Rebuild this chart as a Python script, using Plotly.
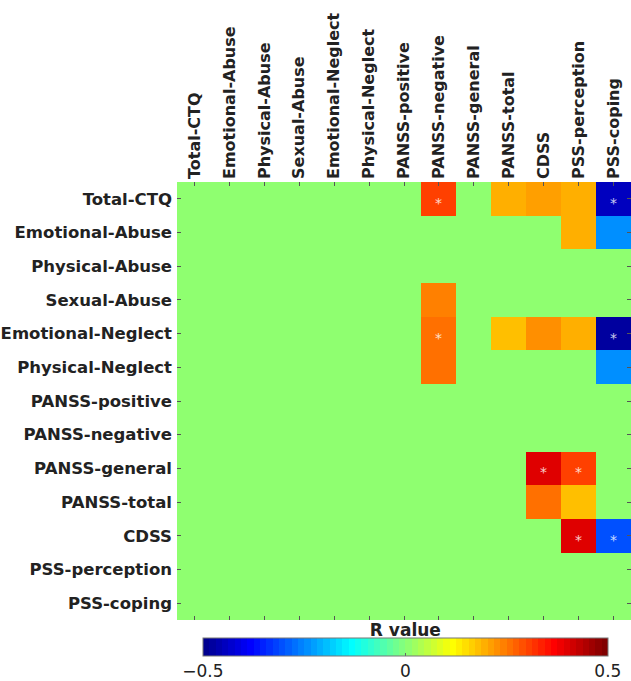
import plotly.graph_objects as go

# Variable names (rows and columns share the same order)
variables = [
    "Total-CTQ", "Emotional-Abuse", "Physical-Abuse", "Sexual-Abuse",
    "Emotional-Neglect", "Physical-Neglect", "PANSS-positive",
    "PANSS-negative", "PANSS-general", "PANSS-total", "CDSS",
    "PSS-perception", "PSS-coping",
]

# Correlation R values per row (non-significant / untested cells are 0)
r_total_ctq         = [0, 0, 0, 0, 0, 0, 0, 0.31, 0, 0.20, 0.21, 0.20, -0.44]
r_emotional_abuse   = [0, 0, 0, 0, 0, 0, 0, 0,    0, 0,    0,    0.20, -0.25]
r_physical_abuse    = [0, 0, 0, 0, 0, 0, 0, 0,    0, 0,    0,    0,     0]
r_sexual_abuse      = [0, 0, 0, 0, 0, 0, 0, 0.24, 0, 0,    0,    0,     0]
r_emotional_neglect = [0, 0, 0, 0, 0, 0, 0, 0.26, 0, 0.18, 0.23, 0.20, -0.48]
r_physical_neglect  = [0, 0, 0, 0, 0, 0, 0, 0.25, 0, 0,    0,    0,    -0.25]
r_panss_positive    = [0, 0, 0, 0, 0, 0, 0, 0,    0, 0,    0,    0,     0]
r_panss_negative    = [0, 0, 0, 0, 0, 0, 0, 0,    0, 0,    0,    0,     0]
r_panss_general     = [0, 0, 0, 0, 0, 0, 0, 0,    0, 0,    0.40, 0.31,  0]
r_panss_total       = [0, 0, 0, 0, 0, 0, 0, 0,    0, 0,    0.25, 0.18,  0]
r_cdss              = [0, 0, 0, 0, 0, 0, 0, 0,    0, 0,    0,    0.40, -0.31]
r_pss_perception    = [0, 0, 0, 0, 0, 0, 0, 0,    0, 0,    0,    0,     0]
r_pss_coping        = [0, 0, 0, 0, 0, 0, 0, 0,    0, 0,    0,    0,     0]

r_matrix = [
    r_total_ctq, r_emotional_abuse, r_physical_abuse, r_sexual_abuse,
    r_emotional_neglect, r_physical_neglect, r_panss_positive,
    r_panss_negative, r_panss_general, r_panss_total, r_cdss,
    r_pss_perception, r_pss_coping,
]

# Significant correlations (row variable, column variable)
significant = [
    ("Total-CTQ", "PANSS-negative"), ("Total-CTQ", "PSS-coping"),
    ("Emotional-Neglect", "PANSS-negative"), ("Emotional-Neglect", "PSS-coping"),
    ("PANSS-general", "CDSS"), ("PANSS-general", "PSS-perception"),
    ("CDSS", "PSS-perception"), ("CDSS", "PSS-coping"),
]


def jet(m=64):
    """MATLAB-style jet colormap with m entries."""
    n = -(-m // 4)
    u = [i / n for i in range(1, n + 1)] + [1.0] * (n - 1) + [i / n for i in range(n, 0, -1)]
    g0 = -(-n // 2) - (1 if m % 4 == 1 else 0)
    cols = [[0.0, 0.0, 0.0] for _ in range(m)]
    for k, val in enumerate(u):
        g = g0 + k + 1
        r = g + n
        b = g - n
        if 1 <= r <= m:
            cols[r - 1][0] = val
        if 1 <= g <= m:
            cols[g - 1][1] = val
        if 1 <= b <= m:
            cols[b - 1][2] = val
    return ["rgb(%d,%d,%d)" % tuple(round(c * 255) for c in col) for col in cols]


# Stepwise colorscale: each of the 64 colours fills its own bin
jet_colors = jet(64)
colorscale = []
for i, c in enumerate(jet_colors):
    lo = i / 64
    hi = (i + 1) / 64
    colorscale.append([lo, c])
    colorscale.append([hi - 1e-6 if i < 63 else 1.0, c])

left_font = dict(family="DejaVu Sans", size=16.5, color="#222222", weight="bold")
top_font = dict(family="DejaVu Sans", size=16, color="#222222", weight="bold")

fig = go.Figure()
fig.add_trace(go.Heatmap(
    z=r_matrix,
    x=variables,
    y=variables,
    zmin=-0.5, zmax=0.5,
    colorscale=colorscale,
    showscale=True,
    hoverongaps=False,
    colorbar=dict(
        orientation="h",
        title=dict(text="R value", side="top",
                   font=dict(family="DejaVu Sans", size=17, color="#222222", weight="bold")),
        tickvals=[-0.5, 0, 0.5],
        ticktext=["−0.5", "0", "0.5"],
        tickfont=dict(family="DejaVu Sans", size=17, color="#222222"),
        ticks="inside", ticklen=3, tickcolor="#666666",
        lenmode="pixels", len=405,
        thickness=18,
        x=0.503, xanchor="center",
        yref="container", y=0.092, yanchor="top",
        ypad=0, xpad=0,
        outlinecolor="#777777", outlinewidth=1,
    ),
))

for row_name, col_name in significant:
    fig.add_annotation(
        x=col_name, y=row_name, text="*", showarrow=False,
        font=dict(family="DejaVu Sans", size=14, color="rgba(255,255,255,0.8)"),
        yshift=-4,
    )

fig.update_xaxes(
    side="top", tickangle=-90, tickfont=top_font,
    ticks="inside", ticklen=4, tickcolor="#555555", mirror="ticks",
    ticklabelstandoff=2,
    showgrid=False, zeroline=False,
)
fig.update_yaxes(
    autorange="reversed", tickfont=left_font,
    ticks="inside", ticklen=4, tickcolor="#555555", mirror="ticks",
    ticklabelstandoff=4,
    showgrid=False, zeroline=False,
)

fig.update_layout(
    width=631, height=681,
    margin=dict(l=177, r=0, t=182, b=61, autoexpand=False),
    paper_bgcolor="white", plot_bgcolor="white",
    showlegend=False,
)

fig.write_html("out.html")
